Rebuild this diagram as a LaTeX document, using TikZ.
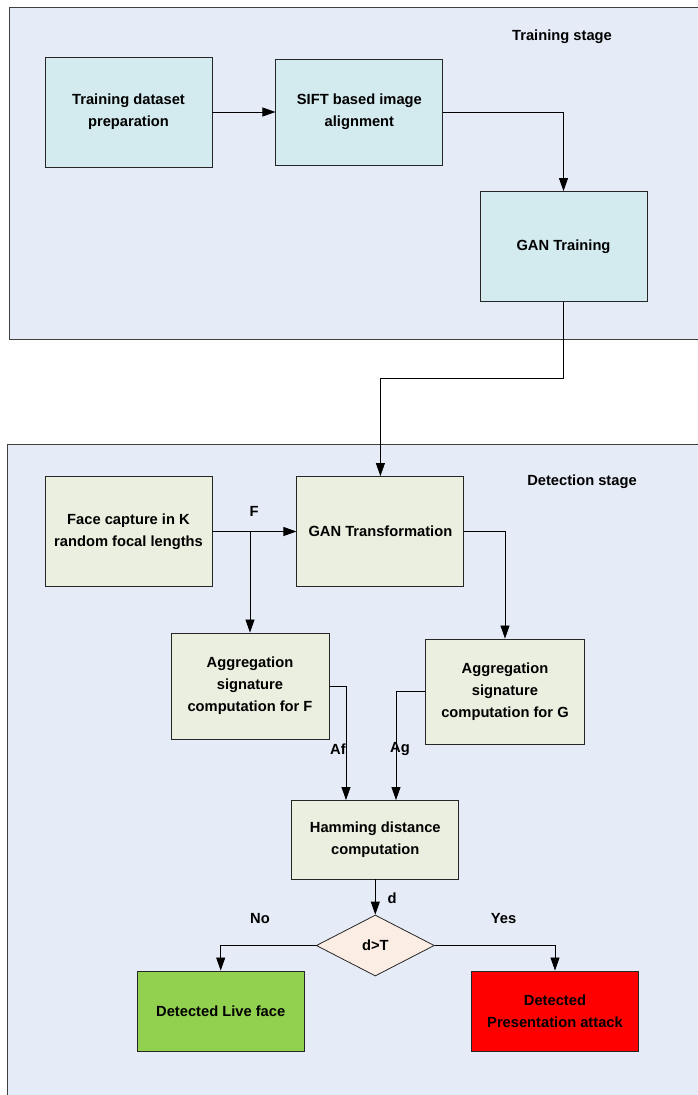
\documentclass[tikz,border=0pt]{standalone}
\usepackage{fontspec}
\setmainfont{Liberation Sans}
\usepackage{xcolor}
\usetikzlibrary{positioning,arrows.meta,shapes.geometric}
\definecolor{panelbg}{HTML}{E6ECF7}
\definecolor{trainfill}{HTML}{D3EAEF}
\definecolor{detfill}{HTML}{EBEFDF}
\definecolor{decfill}{HTML}{FCEDE4}
\definecolor{livefill}{HTML}{92D050}
\definecolor{atkfill}{HTML}{FF0000}
\newcommand{\diagfont}{\fontsize{14.7}{22}\selectfont\bfseries}
\tikzset{
panel/.style={draw=black!75, line width=0.9pt, fill=panelbg},
trainbox/.style={draw=black!85, line width=0.9pt, fill=trainfill, minimum width=167pt,
minimum height=110pt, align=center, font=\diagfont, inner sep=2pt},
detbox/.style={trainbox, fill=detfill},
decision/.style={diamond, draw=black!85, line width=0.8pt, fill=decfill, minimum width=118pt,
minimum height=61pt, inner sep=0pt, font=\diagfont},
lbl/.style={font=\diagfont, inner sep=0pt},
arrow/.style={-{Triangle[length=13pt,width=9pt]}, line width=0.8pt}
}

\begin{document}
\begin{tikzpicture}[x=1pt,y=-1pt,node distance=63pt]
\useasboundingbox (0,0) rectangle (697,1095);
% stage panels
\draw[panel] (9,7) rectangle (720,339);
\draw[panel] (7,444) rectangle (720,1120);
\node[lbl] (trainlbl) at (562,37) {Training stage};
\node[lbl] (detlbl) at (582,482) {Detection stage};

% training stage
\node[trainbox] (tds) at (128.5,112) {Training dataset\\preparation};
\node[trainbox,right=of tds,minimum height=106pt](sift){SIFT based image\\alignment};
\node[trainbox] (gantr) at (563.5,246.5) {GAN Training};
\coordinate (link) at (563.5,378);

% detection stage
\node[detbox] (face) at (128.5,531.5) {Face capture in K\\random focal lengths};
\node[detbox,right=84pt of face] (gant) {GAN Transformation};
\coordinate (split) at (250,531.5);
\node[detbox,minimum width=158pt,minimum height=106pt] (aggf) at (250,686) {Aggregation\\signature\\computation for F};
\node[detbox,minimum width=159pt,minimum height=105pt] (aggg) at (505,691.5) {Aggregation\\signature\\computation for G};
\node[detbox,minimum height=79pt] (ham) at (375.3,839.5) {Hamming distance\\computation};
\coordinate (inf) at (346,800);
\coordinate (ing) at (396,800);
\node[decision] (dec) at (375.3,945.5) {d>T};
\node[trainbox,fill=livefill,minimum height=80pt] (live) at (220.7,1011) {Detected Live face};
\node[trainbox,fill=atkfill,minimum height=80pt] (atk) at (555,1011) {Detected\\Presentation attack};

% connectors
\draw[arrow] (tds) -- (sift);
\draw[arrow] (sift.east) -| (gantr.north);
\draw[arrow] (gantr.south) -- (link) -| (gant.north);
\draw[arrow] (face) -- (gant);
\draw[arrow] (split) -- (aggf.north);
\draw[arrow] (gant.east) -| (aggg.north);
\draw[arrow] (aggf.east) -| (inf);
\draw[arrow] (aggg.west) -| (ing);
\draw[arrow] (ham) -- (dec);
\draw[arrow] (dec.west) -| (live.north);
\draw[arrow] (dec.east) -| (atk.north);

% connector labels
\node[lbl] (flbl) at (254,511) {F};
\node[lbl] (aflbl) at (338,749) {Af};
\node[lbl] (aglbl) at (400,749) {Ag};
\node[lbl] (dlbl) at (392,898) {d};
\node[lbl] (nolbl) at (260,919) {No};
\node[lbl] (yeslbl) at (503.5,919) {Yes};
\end{tikzpicture}
\end{document}
